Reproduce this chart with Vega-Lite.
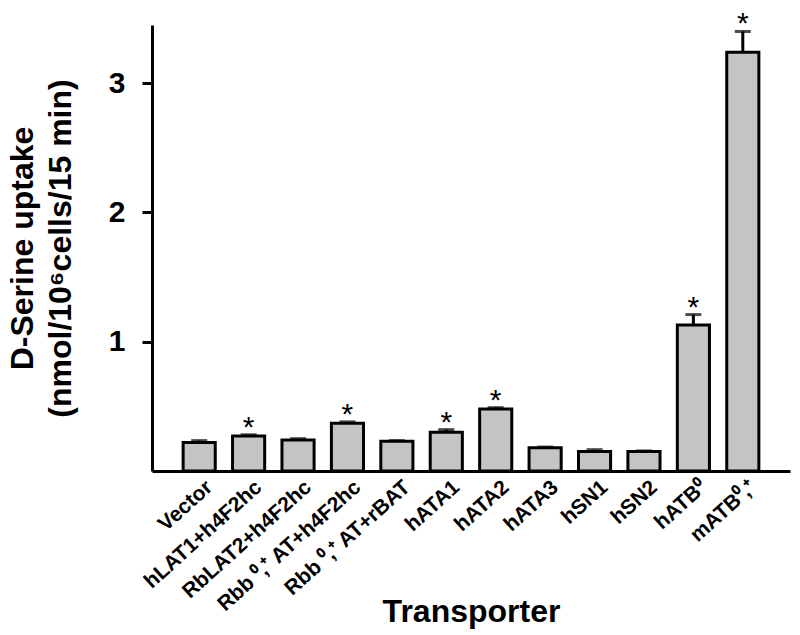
{
  "$schema": "https://vega.github.io/schema/vega-lite/v6.json",
  "autosize": "none",
  "width": 638,
  "height": 446,
  "padding": {"left": 152, "top": 25, "right": 10, "bottom": 164},
  "background": "white",
  "config": {
    "view": {"stroke": null},
    "font": "Liberation Sans"
  },
  "data": {
    "values": [
      {"transporter": "Vector", "value": 0.22, "hi": 0.235, "sig": ""},
      {"transporter": "hLAT1+h4F2hc", "value": 0.27, "hi": 0.28, "sig": "*"},
      {"transporter": "RbLAT2+h4F2hc", "value": 0.24, "hi": 0.25, "sig": ""},
      {"transporter": "Rbb ⁰,⁺ AT+h4F2hc", "value": 0.37, "hi": 0.38, "sig": "*"},
      {"transporter": "Rbb ⁰,⁺ AT+rBAT", "value": 0.23, "hi": 0.235, "sig": ""},
      {"transporter": "hATA1", "value": 0.30, "hi": 0.32, "sig": "*"},
      {"transporter": "hATA2", "value": 0.48, "hi": 0.49, "sig": "*"},
      {"transporter": "hATA3", "value": 0.18, "hi": 0.185, "sig": ""},
      {"transporter": "hSN1", "value": 0.15, "hi": 0.165, "sig": ""},
      {"transporter": "hSN2", "value": 0.15, "hi": 0.155, "sig": ""},
      {"transporter": "hATB⁰", "value": 1.13, "hi": 1.21, "sig": "*"},
      {"transporter": "mATB⁰,⁺", "value": 3.24, "hi": 3.40, "sig": "*"}
    ]
  },
  "encoding": {
    "x": {
      "field": "transporter",
      "type": "nominal",
      "sort": null,
      "scale": {"paddingInner": 0.35, "paddingOuter": 0.63},
      "axis": {
        "title": "Transporter",
        "titleFont": "Liberation Sans",
        "titleFontSize": 32,
        "titleFontWeight": "bold",
        "titleColor": "black",
        "titleBaseline": "top",
        "titleY": 125,
        "labelAngle": -42,
        "labelAlign": "right",
        "labelBaseline": "top",
        "labelPadding": 5,
        "labelOffset": 3,
        "labelFont": "Liberation Sans",
        "labelFontSize": 21,
        "labelFontWeight": "bold",
        "labelColor": "black",
        "labelLimit": 0,
        "ticks": false,
        "domainColor": "black",
        "domainWidth": 3
      }
    }
  },
  "layer": [
    {
      "mark": {"type": "rule", "color": "black", "strokeWidth": 3},
      "encoding": {
        "y": {"field": "value", "type": "quantitative"},
        "y2": {"field": "hi"}
      }
    },
    {
      "mark": {"type": "tick", "color": "black", "thickness": 3, "size": 16},
      "encoding": {
        "y": {"field": "hi", "type": "quantitative"}
      }
    },
    {
      "mark": {"type": "bar", "fill": "#c4c4c4", "stroke": "black", "strokeWidth": 3},
      "encoding": {
        "y": {
          "field": "value",
          "type": "quantitative",
          "scale": {"domain": [0, 3.45], "nice": false, "zero": true},
          "axis": {
            "title": ["D-Serine uptake", "(nmol/10⁶cells/15 min)"],
            "titleFont": "Liberation Sans",
            "titleFontSize": 32,
            "titleFontWeight": "bold",
            "titleColor": "black",
            "titleLineHeight": 38,
            "titleAngle": -90,
            "titleBaseline": "middle",
            "titleAlign": "center",
            "titleX": -130,
            "titleY": 223,
            "values": [1, 2, 3],
            "format": "d",
            "grid": false,
            "labelFont": "Liberation Sans",
            "labelFontSize": 30,
            "labelFontWeight": "bold",
            "labelColor": "black",
            "labelPadding": 17,
            "tickSize": 10,
            "tickWidth": 3,
            "tickColor": "black",
            "domainColor": "black",
            "domainWidth": 3
          }
        }
      }
    },
    {
      "mark": {"type": "text", "fontSize": 30, "font": "Liberation Sans", "color": "black", "baseline": "alphabetic", "dy": 2},
      "encoding": {
        "y": {"field": "hi", "type": "quantitative"},
        "text": {"field": "sig"}
      }
    }
  ]
}
